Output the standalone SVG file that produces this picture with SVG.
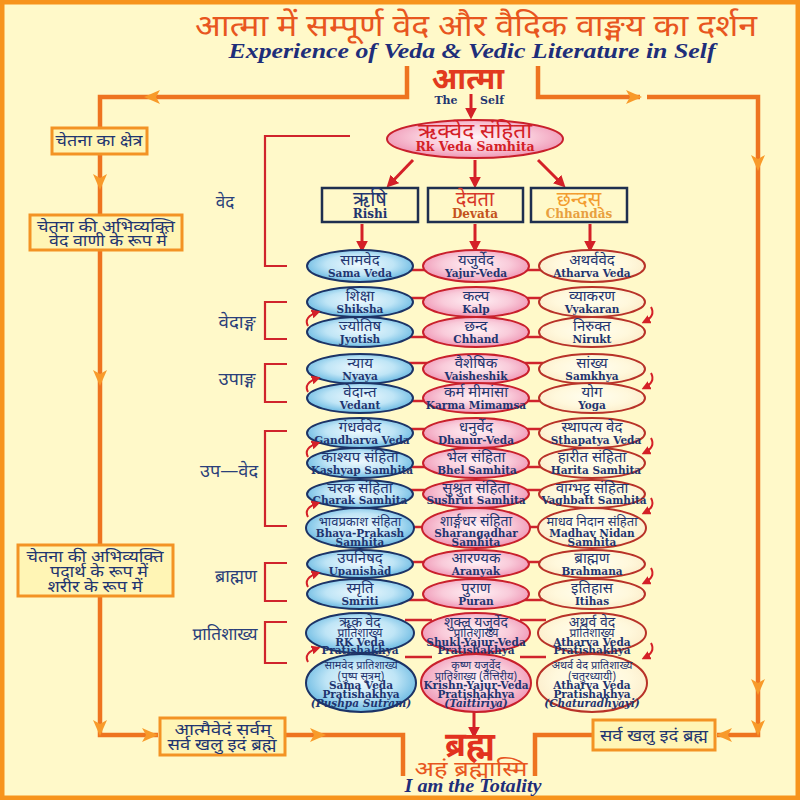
<svg xmlns="http://www.w3.org/2000/svg" width="800" height="800" viewBox="0 0 800 800">
<defs>
<radialGradient id="gb" cx="50%" cy="45%" r="58%"><stop offset="0" stop-color="#EEF9FE"/><stop offset="0.55" stop-color="#BFE5F6"/><stop offset="1" stop-color="#5EB3DF"/></radialGradient>
<radialGradient id="gp" cx="50%" cy="45%" r="58%"><stop offset="0" stop-color="#FFF2F6"/><stop offset="0.55" stop-color="#F9CBDA"/><stop offset="1" stop-color="#EE8FB0"/></radialGradient>
<radialGradient id="gc" cx="50%" cy="45%" r="58%"><stop offset="0" stop-color="#FFFEF0"/><stop offset="0.6" stop-color="#FFF8DC"/><stop offset="1" stop-color="#FBEBC8"/></radialGradient>
<marker id="ra" viewBox="0 0 10 10" refX="7" refY="5" markerWidth="4" markerHeight="4" orient="auto"><path d="M0,0 L10,5 L0,10 Z" fill="#D42027"/></marker>
<marker id="rs" viewBox="0 0 10 10" refX="7" refY="5" markerWidth="4.5" markerHeight="4.5" orient="auto"><path d="M0,0 L10,5 L0,10 Z" fill="#D42027"/></marker>
<path id="oa" d="M-8,-7 L8,0 L-8,7 L-4,0 Z"/>
</defs>
<style>
.ln{fill:none;stroke:#EE7420;stroke-width:4.5}
.oh{fill:#F89A2A}
.bx{fill:#FFF5B5;stroke:#F39324;stroke-width:3}
.hi{font-family:"Noto Sans Devanagari","Lohit Devanagari","Noto Serif Devanagari","FreeSans",sans-serif;text-anchor:middle}
.en{font-family:"DejaVu Serif","Liberation Serif",serif;font-weight:bold;text-anchor:middle}
.ee{font-family:"DejaVu Serif","Liberation Serif",serif;font-weight:bold;text-anchor:middle;font-size:10.5px}
.nv{fill:#1F3570}
.lb{fill:#2A3F7A;font-size:17px}
.bt{fill:#1F3570;font-size:16px}
.rd{fill:#D42027}
.br{fill:none;stroke:#D0242C;stroke-width:2.2}
.ra{stroke:#D42027;stroke-width:3;fill:none;marker-end:url(#ra)}
.rc{stroke:#D42027;stroke-width:2;fill:none;marker-end:url(#rs)}
.e1{fill:url(#gb);stroke:#1C3366;stroke-width:2}
.e2{fill:url(#gp);stroke:#C9202C;stroke-width:2}
.e3{fill:url(#gc);stroke:#B83228;stroke-width:2}
.cl{stroke:#D0242C;stroke-width:2.5}
.rb{fill:#FFF9C9;stroke:#1E2F4F;stroke-width:2.5}
.h{font-size:15px}
</style>
<rect x="2" y="2" width="796" height="796" fill="#FFF9C9" stroke="#F7941D" stroke-width="5"/>

<g id="title">
<text class="hi" x="476" y="36" font-size="31" fill="#E8561E" textLength="562" lengthAdjust="spacingAndGlyphs">आत्मा में सम्पूर्ण वेद और वैदिक वाङ्मय का दर्शन</text>
<text x="472" y="58" font-family="Liberation Serif, serif" font-weight="bold" font-style="italic" font-size="21" fill="#1E2E7A" text-anchor="middle" textLength="487" lengthAdjust="spacingAndGlyphs">Experience of Veda &amp; Vedic Literature in Self</text>
</g>

<g id="connectors">
<path class="ln" d="M407,66 V97 H100 V735 H158"/>
<path class="ln" d="M285,735 H403 V776"/>
<path class="ln" d="M538,66 V97 H640 M647,97 H758 V735 H717"/>
<path class="ln" d="M535,776 V735 H593"/>
<g class="oh">
<use href="#oa" transform="translate(152,97) rotate(180)"/>
<use href="#oa" transform="translate(634,97)"/>
<use href="#oa" transform="translate(100,182) rotate(90)"/>
<use href="#oa" transform="translate(100,378) rotate(90)"/>
<use href="#oa" transform="translate(100,728) rotate(90)"/>
<use href="#oa" transform="translate(150,735)"/>
<use href="#oa" transform="translate(318,735)"/>
<use href="#oa" transform="translate(758,163) rotate(90)"/>
<use href="#oa" transform="translate(758,687) rotate(90)"/>
<use href="#oa" transform="translate(758,728) rotate(90)"/>
<use href="#oa" transform="translate(724,735) rotate(180)"/>
</g>
<line class="ra" x1="471" y1="94" x2="471" y2="116"/>
<line class="ra" x1="413" y1="160" x2="389" y2="185"/>
<line class="ra" x1="475" y1="160" x2="475" y2="185"/>
<line class="ra" x1="538" y1="160" x2="563" y2="185"/>
<line class="ra" x1="362" y1="224" x2="362" y2="249"/>
<line class="ra" x1="475" y1="224" x2="475" y2="249"/>
<line class="ra" x1="590" y1="224" x2="590" y2="249"/>
<line class="ra" x1="474" y1="712" x2="474" y2="735"/>
<g>
<line class="cl" x1="405" y1="270" x2="430" y2="270"/><line class="cl" x1="520" y1="270" x2="546" y2="270"/>
<line class="cl" x1="405" y1="298" x2="430" y2="298"/><line class="cl" x1="520" y1="298" x2="546" y2="298"/>
<line class="cl" x1="405" y1="337" x2="430" y2="337"/><line class="cl" x1="520" y1="337" x2="546" y2="337"/>
<line class="cl" x1="405" y1="363" x2="430" y2="363"/><line class="cl" x1="520" y1="363" x2="546" y2="363"/>
<line class="cl" x1="405" y1="401" x2="430" y2="401"/><line class="cl" x1="520" y1="401" x2="546" y2="401"/>
<line class="cl" x1="405" y1="429" x2="430" y2="429"/><line class="cl" x1="520" y1="429" x2="546" y2="429"/>
<line class="cl" x1="405" y1="467" x2="430" y2="467"/><line class="cl" x1="520" y1="467" x2="546" y2="467"/>
<line class="cl" x1="405" y1="490" x2="430" y2="490"/><line class="cl" x1="520" y1="490" x2="546" y2="490"/>
<line class="cl" x1="405" y1="527" x2="430" y2="527"/><line class="cl" x1="520" y1="527" x2="546" y2="527"/>
<line class="cl" x1="405" y1="562" x2="430" y2="562"/><line class="cl" x1="520" y1="562" x2="546" y2="562"/>
<line class="cl" x1="405" y1="600" x2="430" y2="600"/><line class="cl" x1="520" y1="600" x2="546" y2="600"/>
<line class="cl" x1="405" y1="620" x2="432" y2="620"/><line class="cl" x1="520" y1="620" x2="546" y2="620"/>
<line class="cl" x1="405" y1="657" x2="432" y2="657"/><line class="cl" x1="520" y1="657" x2="546" y2="657"/>
</g>
<g id="brackets">
<path class="br" d="M350,136 H265 V266 H287"/>
<path class="br" d="M287,302 H265 V339 H287"/>
<path class="br" d="M287,364 H265 V402 H287"/>
<path class="br" d="M287,431 H265 V526 H287"/>
<path class="br" d="M287,563 H265 V601 H287"/>
<path class="br" d="M287,622 H265 V663 H287"/>
</g>
</g>

<g id="labels">
<text class="hi lb" x="225" y="208">वेद</text>
<text class="hi lb" x="237" y="328" textLength="37" lengthAdjust="spacingAndGlyphs">वेदाङ्ग</text>
<text class="hi lb" x="237" y="385" textLength="37" lengthAdjust="spacingAndGlyphs">उपाङ्ग</text>
<text class="hi lb" x="229" y="477" textLength="58" lengthAdjust="spacingAndGlyphs">उप—वेद</text>
<text class="hi lb" x="236" y="582" textLength="42" lengthAdjust="spacingAndGlyphs">ब्राह्मण</text>
<text class="hi lb" x="225" y="640" textLength="65" lengthAdjust="spacingAndGlyphs">प्रातिशाख्य</text>
</g>

<g id="box-chetna-kshetra"><rect class="bx" x="52" y="128" width="95" height="26"/><text class="hi bt" x="99" y="146" textLength="87" lengthAdjust="spacingAndGlyphs">चेतना का क्षेत्र</text></g>
<g id="box-ved-vani"><rect class="bx" x="30" y="215" width="152" height="35"/><text class="hi bt" x="106" y="232" textLength="138" lengthAdjust="spacingAndGlyphs">चेतना की अभिव्यक्ति</text><text class="hi bt" x="108" y="246" textLength="118" lengthAdjust="spacingAndGlyphs">वेद वाणी के रूप में</text></g>
<g id="box-padarth"><rect class="bx" x="18" y="545" width="155" height="51"/><text class="hi bt" x="95" y="562" textLength="137" lengthAdjust="spacingAndGlyphs">चेतना की अभिव्यक्ति</text><text class="hi bt" x="99" y="577" textLength="98" lengthAdjust="spacingAndGlyphs">पदार्थ के रूप में</text><text class="hi bt" x="95" y="592" textLength="95" lengthAdjust="spacingAndGlyphs">शरीर के रूप में</text></g>
<g id="box-atmaivedam"><rect class="bx" x="160" y="718" width="125" height="37"/><text class="hi bt" x="223" y="735" textLength="97" lengthAdjust="spacingAndGlyphs">आत्मैवेदं सर्वम्</text><text class="hi bt" x="222" y="750" textLength="109" lengthAdjust="spacingAndGlyphs">सर्व खलु इदं ब्रह्म</text></g>
<g id="box-sarvam"><rect class="bx" x="593" y="720" width="122" height="30"/><text class="hi bt" x="654" y="741" font-size="17" textLength="108" lengthAdjust="spacingAndGlyphs">सर्व खलु इदं ब्रह्म</text></g>

<g id="atma">
<text class="hi" x="468" y="89" font-size="30" font-weight="bold" fill="#E23A1E">आत्मा</text>
<text class="en nv" x="446" y="104" font-size="11">The</text>
<text class="en nv" x="492" y="104" font-size="11">Self</text>
</g>

<g id="rkveda"><ellipse class="e2" cx="475" cy="139" rx="88" ry="19"/><text class="hi rd" x="475" y="138" font-size="21" textLength="114" lengthAdjust="spacingAndGlyphs">ऋक्वेद संहिता</text><text class="en rd" x="475" y="151" font-size="12.5">Rk Veda Samhita</text></g>

<g id="rishi"><rect class="rb" x="322" y="188" width="96" height="34"/><text class="hi nv" x="370" y="206" font-size="20">ऋषि</text><text class="en nv" x="370" y="218" font-size="12">Rishi</text></g>
<g id="devata"><rect class="rb" x="428" y="188" width="95" height="34"/><text class="hi" x="475" y="206" font-size="20" fill="#D7382A">देवता</text><text class="en" x="475" y="218" font-size="12" fill="#C4521C">Devata</text></g>
<g id="chhandas"><rect class="rb" x="531" y="188" width="96" height="34"/><text class="hi" x="579" y="206" font-size="20" fill="#F39C2E">छन्दस्</text><text class="en" x="579" y="218" font-size="12" fill="#E8A040">Chhandas</text></g>

<g id="samaveda"><ellipse class="e1" cx="360" cy="266" rx="53" ry="16"/><text class="hi nv h" x="360" y="265">सामवेद</text><text class="ee nv" x="360" y="277">Sama Veda</text></g>
<g id="yajurveda"><ellipse class="e2" cx="476" cy="266" rx="53" ry="16"/><text class="hi nv h" x="476" y="265">यजुर्वेद</text><text class="ee nv" x="476" y="277">Yajur-Veda</text></g>
<g id="atharvaveda"><ellipse class="e3" cx="592" cy="266" rx="53" ry="16"/><text class="hi nv h" x="592" y="265">अथर्ववेद</text><text class="ee nv" x="592" y="277">Atharva Veda</text></g>

<g id="shiksha"><ellipse class="e1" cx="360" cy="302" rx="53" ry="15"/><text class="hi nv h" x="360" y="301">शिक्षा</text><text class="ee nv" x="360" y="313">Shiksha</text></g>
<g id="kalp"><ellipse class="e2" cx="476" cy="302" rx="53" ry="15"/><text class="hi nv h" x="476" y="301">कल्प</text><text class="ee nv" x="476" y="313">Kalp</text></g>
<g id="vyakaran"><ellipse class="e3" cx="592" cy="302" rx="53" ry="15"/><text class="hi nv h" x="592" y="301">व्याकरण</text><text class="ee nv" x="592" y="313">Vyakaran</text></g>

<g id="jyotish"><ellipse class="e1" cx="360" cy="332" rx="53" ry="15"/><text class="hi nv h" x="360" y="331">ज्योतिष</text><text class="ee nv" x="360" y="343">Jyotish</text></g>
<g id="chhand"><ellipse class="e2" cx="476" cy="332" rx="53" ry="15"/><text class="hi nv h" x="476" y="331">छन्द</text><text class="ee nv" x="476" y="343">Chhand</text></g>
<g id="nirukt"><ellipse class="e3" cx="592" cy="332" rx="53" ry="15"/><text class="hi nv h" x="592" y="331">निरुक्त</text><text class="ee nv" x="592" y="343">Nirukt</text></g>

<g id="nyaya"><ellipse class="e1" cx="360" cy="369" rx="53" ry="15"/><text class="hi nv h" x="360" y="368">न्याय</text><text class="ee nv" x="360" y="380">Nyaya</text></g>
<g id="vaisheshik"><ellipse class="e2" cx="476" cy="369" rx="53" ry="15"/><text class="hi nv h" x="476" y="368">वैशेषिक</text><text class="ee nv" x="476" y="380">Vaisheshik</text></g>
<g id="samkhya"><ellipse class="e3" cx="592" cy="369" rx="53" ry="15"/><text class="hi nv h" x="592" y="368">सांख्य</text><text class="ee nv" x="592" y="380">Samkhya</text></g>

<g id="vedant"><ellipse class="e1" cx="360" cy="398" rx="53" ry="15"/><text class="hi nv h" x="360" y="397">वेदान्त</text><text class="ee nv" x="360" y="409">Vedant</text></g>
<g id="karma-mimamsa"><ellipse class="e2" cx="476" cy="398" rx="53" ry="15"/><text class="hi nv h" x="476" y="397">कर्म मीमांसा</text><text class="ee nv" x="476" y="409" font-size="8">Karma Mimamsa</text></g>
<g id="yoga"><ellipse class="e3" cx="592" cy="398" rx="53" ry="15"/><text class="hi nv h" x="592" y="397">योग</text><text class="ee nv" x="592" y="409">Yoga</text></g>

<g id="gandharva"><ellipse class="e1" cx="360" cy="433" rx="53" ry="15"/><text class="hi nv h" x="360" y="432">गंधर्ववेद</text><text class="ee nv" x="362" y="444">Gandharva Veda</text></g>
<g id="dhanurveda"><ellipse class="e2" cx="476" cy="433" rx="53" ry="15"/><text class="hi nv h" x="476" y="432">धनुर्वेद</text><text class="ee nv" x="476" y="444">Dhanur-Veda</text></g>
<g id="sthapatya"><ellipse class="e3" cx="592" cy="433" rx="53" ry="15"/><text class="hi nv h" x="592" y="432">स्थापत्य वेद</text><text class="ee nv" x="596" y="444" font-size="9.3">Sthapatya Veda</text></g>

<g id="kashyap"><ellipse class="e1" cx="360" cy="463" rx="53" ry="15"/><text class="hi nv h" x="360" y="462">काश्यप संहिता</text><text class="ee nv" x="362" y="474" font-size="10">Kashyap Samhita</text></g>
<g id="bhel"><ellipse class="e2" cx="476" cy="463" rx="53" ry="15"/><text class="hi nv h" x="476" y="462">भेल संहिता</text><text class="ee nv" x="477" y="474" font-size="9.7">Bhel Samhita</text></g>
<g id="harita"><ellipse class="e3" cx="592" cy="463" rx="53" ry="15"/><text class="hi nv h" x="592" y="462">हारीत संहिता</text><text class="ee nv" x="596" y="474" font-size="10">Harita Samhita</text></g>

<g id="charak"><ellipse class="e1" cx="360" cy="494" rx="53" ry="14"/><text class="hi nv h" x="360" y="493">चरक संहिता</text><text class="ee nv" x="360" y="504" font-size="10">Charak Samhita</text></g>
<g id="sushrut"><ellipse class="e2" cx="476" cy="494" rx="53" ry="14"/><text class="hi nv h" x="476" y="493">सुश्रुत संहिता</text><text class="ee nv" x="476" y="504" font-size="8.7">Sushrut Samhita</text></g>
<g id="vaghbatt"><ellipse class="e3" cx="592" cy="494" rx="53" ry="14"/><text class="hi nv h" x="592" y="493">वाग्भट्ट संहिता</text><text class="ee nv" x="594" y="504" font-size="8.7">Vaghbatt Samhita</text></g>

<g id="bhavaprakash"><ellipse class="e1" cx="360" cy="528" rx="54" ry="20"/><text class="hi nv" x="360" y="526" font-size="13">भावप्रकाश संहिता</text><text class="ee nv" x="360" y="537">Bhava-Prakash</text><text class="ee nv" x="360" y="546">Samhita</text></g>
<g id="sharangadhar"><ellipse class="e2" cx="476" cy="528" rx="54" ry="20"/><text class="hi nv" x="476" y="526" font-size="14">शार्ङ्गधर संहिता</text><text class="ee nv" x="476" y="537">Sharangadhar</text><text class="ee nv" x="476" y="546">Samhita</text></g>
<g id="madhavnidan"><ellipse class="e3" cx="592" cy="528" rx="54" ry="20"/><text class="hi nv" x="592" y="526" font-size="13">माधव निदान संहिता</text><text class="ee nv" x="592" y="537">Madhav Nidan</text><text class="ee nv" x="592" y="546">Samhita</text></g>

<g id="upanishad"><ellipse class="e1" cx="360" cy="564" rx="53" ry="14"/><text class="hi nv h" x="360" y="563">उपनिषद्</text><text class="ee nv" x="360" y="575">Upanishad</text></g>
<g id="aranyak"><ellipse class="e2" cx="476" cy="564" rx="53" ry="14"/><text class="hi nv h" x="476" y="563">आरण्यक</text><text class="ee nv" x="476" y="575">Aranyak</text></g>
<g id="brahmana"><ellipse class="e3" cx="592" cy="564" rx="53" ry="14"/><text class="hi nv h" x="592" y="563">ब्राह्मण</text><text class="ee nv" x="592" y="575">Brahmana</text></g>

<g id="smriti"><ellipse class="e1" cx="360" cy="594" rx="53" ry="15"/><text class="hi nv h" x="360" y="593">स्मृति</text><text class="ee nv" x="360" y="605">Smriti</text></g>
<g id="puran"><ellipse class="e2" cx="476" cy="594" rx="53" ry="15"/><text class="hi nv h" x="476" y="593">पुराण</text><text class="ee nv" x="476" y="605">Puran</text></g>
<g id="itihas"><ellipse class="e3" cx="592" cy="594" rx="53" ry="15"/><text class="hi nv h" x="592" y="593">इतिहास</text><text class="ee nv" x="592" y="605">Itihas</text></g>

<g id="rk-pratishakhya"><ellipse class="e1" cx="360" cy="633" rx="54" ry="20"/><text class="hi nv" x="360" y="627" font-size="14">ऋक वेद</text><text class="hi nv" x="360" y="637" font-size="12">प्रातिशाख्य</text><text class="ee nv" x="360" y="646" font-size="9.5">RK Veda</text><text class="ee nv" x="360" y="654" font-size="9.5">Pratishakhya</text></g>
<g id="shukl-pratishakhya"><ellipse class="e2" cx="476" cy="633" rx="54" ry="20"/><text class="hi nv" x="476" y="627" font-size="14">शुक्ल यजुर्वेद</text><text class="hi nv" x="476" y="637" font-size="12">प्रातिशाख्य</text><text class="ee nv" x="476" y="646" font-size="8.5">Shukl-Yajur-Veda</text><text class="ee nv" x="476" y="654" font-size="9.5">Pratishakhya</text></g>
<g id="atharva-pratishakhya"><ellipse class="e3" cx="592" cy="633" rx="54" ry="20"/><text class="hi nv" x="592" y="627" font-size="14">अथर्व वेद</text><text class="hi nv" x="592" y="637" font-size="12">प्रातिशाख्य</text><text class="ee nv" x="592" y="646" font-size="9.5">Atharva Veda</text><text class="ee nv" x="592" y="654" font-size="9.5">Pratishakhya</text></g>

<g id="sama-pratishakhya"><ellipse class="e1" cx="361" cy="683" rx="55" ry="29"/><text class="hi nv" x="361" y="669" font-size="11">सामवेद प्रातिशाख्य</text><text class="hi nv" x="361" y="680" font-size="11">(पुष्प सूत्रम्)</text><text class="ee nv" x="361" y="689" font-size="9.5">Sama Veda</text><text class="ee nv" x="361" y="698" font-size="9.5">Pratishakhya</text><text class="ee nv" x="361" y="707" font-size="9" font-style="italic">(Pushpa Sutram)</text></g>
<g id="krishn-pratishakhya"><ellipse class="e2" cx="476" cy="683" rx="55" ry="29"/><text class="hi nv" x="476" y="669" font-size="11">कृष्ण यजुर्वेद</text><text class="hi nv" x="476" y="680" font-size="11">प्रातिशाख्य (तैत्तिरीय)</text><text class="ee nv" x="476" y="689" font-size="9">Krishn-Yajur-Veda</text><text class="ee nv" x="476" y="698" font-size="9.5">Pratishakhya</text><text class="ee nv" x="476" y="707" font-size="9" font-style="italic">(Taittiriya)</text></g>
<g id="atharva-chaturadhyayi"><ellipse class="e3" cx="592" cy="683" rx="55" ry="29"/><text class="hi nv" x="592" y="669" font-size="11">अथर्व वेद प्रातिशाख्य</text><text class="hi nv" x="592" y="680" font-size="11">(चतुरध्यायी)</text><text class="ee nv" x="592" y="689" font-size="9.5">Atharva Veda</text><text class="ee nv" x="592" y="698" font-size="9.5">Pratishakhya</text><text class="ee nv" x="592" y="707" font-size="9" font-style="italic">(Chaturadhyayi)</text></g>

<g id="curved-arrows">
<path class="rc" d="M308,326 Q303,317 318,312"/>
<path class="rc" d="M308,392 Q303,383 318,378"/>
<path class="rc" d="M308,457 Q303,448 318,443"/>
<path class="rc" d="M308,517 Q303,508 318,503"/>
<path class="rc" d="M308,587 Q303,578 318,573"/>
<path class="rc" d="M308,662 Q303,653 318,648"/>
<path class="rc" d="M651,307 Q656,316 644,322"/>
<path class="rc" d="M651,373 Q656,382 644,388"/>
<path class="rc" d="M651,438 Q656,447 644,453"/>
<path class="rc" d="M651,498 Q656,507 644,513"/>
<path class="rc" d="M651,568 Q656,577 644,583"/>
<path class="rc" d="M651,643 Q656,652 644,658"/>
</g>

<g id="brahma">
<text class="hi" x="470" y="756" font-size="34" font-weight="bold" fill="#E2321E">ब्रह्म</text>
<text class="hi" x="471" y="776" font-size="21" fill="#E8561E" textLength="113" lengthAdjust="spacingAndGlyphs">अहं ब्रह्मास्मि</text>
<text x="473" y="792" font-family="Liberation Serif, serif" font-weight="bold" font-style="italic" font-size="18" fill="#1E2E7A" text-anchor="middle" textLength="137" lengthAdjust="spacingAndGlyphs">I am the Totality</text>
</g>
</svg>
